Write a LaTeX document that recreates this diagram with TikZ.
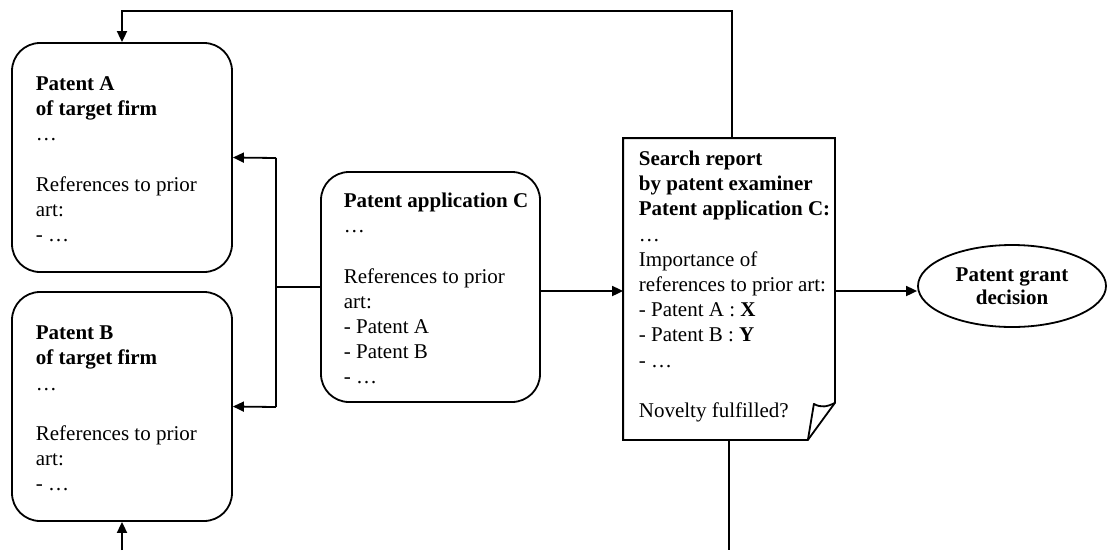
\documentclass[tikz,border=0pt]{standalone}
\usepackage{fontspec}
\setmainfont{Liberation Serif}
\usetikzlibrary{arrows.meta,shapes.geometric}
\begin{document}
\begin{tikzpicture}[x=1pt,y=-1pt,
  line width=1.8pt,
  arr/.style={-{Triangle[length=11pt,width=10pt]}},
  rbox/.style={draw,rounded corners=28pt,inner sep=0pt},
  txt/.style={anchor=north west,inner sep=0pt,align=left,
    font=\fontsize{21}{25.2}\selectfont},
]
\useasboundingbox (0,0) rectangle (1108,550);
% boxes
\node[rbox,minimum width=220pt,minimum height=229pt] (A) at (122,157.5) {};
\node[rbox,minimum width=220pt,minimum height=229pt] (B) at (122,406.5) {};
\node[rbox,minimum width=219pt,minimum height=230pt] (C) at (430.5,287) {};
\node[inner sep=0pt,minimum width=210pt,minimum height=300pt] (doc) at (729,289) {};
\node[draw,ellipse,inner sep=0pt,minimum width=188pt,minimum height=82pt,
  align=center,font=\fontsize{21}{23}\selectfont\bfseries] (grant) at (1012,286)
  {Patent grant\\decision};
% document outline with folded corner
\draw[line join=miter] (doc.north west) -- (doc.north east) -- ([yshift=37pt]doc.south east)
  -- ([xshift=-27pt]doc.south east) -- (doc.south west) -- cycle;
\draw[line join=round] ([xshift=-27pt]doc.south east) -- ([xshift=-21pt,yshift=36pt]doc.south east)
  .. controls ([xshift=-14pt,yshift=32pt]doc.south east) and ([xshift=-8pt,yshift=33pt]doc.south east)
  .. ([yshift=37pt]doc.south east);
% texts
\node[txt] (Atext) at (35,75.7) {\textbf{Patent A}\\\textbf{of target firm}\\…\\[25.2pt]References to prior\\art:\\- …};
\node[txt] (Btext) at (35,325) {\textbf{Patent B}\\\textbf{of target firm}\\…\\[25.2pt]References to prior\\art:\\- …};
\node[txt] (Ctext) at (343,192) {\textbf{Patent application C}\\…\\[25.2pt]References to prior\\art:\\- Patent A\\- Patent B\\- …};
\node[txt] (doctext) at (638,150) {\textbf{Search report}\\\textbf{by patent examiner}\\\textbf{Patent application C:}\\…\\Importance of\\references to prior art:\\- Patent A : \textbf{X}\\- Patent B : \textbf{Y}\\- …\\[25.2pt]Novelty fulfilled?};
% connectors
\coordinate (jA) at (276,158);
\coordinate (jB) at (276,407);
\coordinate (t1) at (732,11);
\coordinate (b1) at (729,550);
\coordinate (b2) at (122,550);
\draw (C.west) -- (C.west -| jA);
\draw (jA) -- (jB);
\draw[arr] (jA) -- (A.east);
\draw[arr] (jB) -- (B.east);
\draw[arr] (t1 |- doc.north) -- (t1) -| (A.north);
\draw[arr] ([yshift=-4pt]C.east) -- ([yshift=-4pt]C.east -| doc.west);
\draw[arr] ([yshift=-4pt]C.east -| doc.east) -- ([yshift=-4pt]C.east -| grant.west);
\draw (doc.south) -- (b1);
\draw[arr] (b2) -- (B.south);
\end{tikzpicture}
\end{document}
